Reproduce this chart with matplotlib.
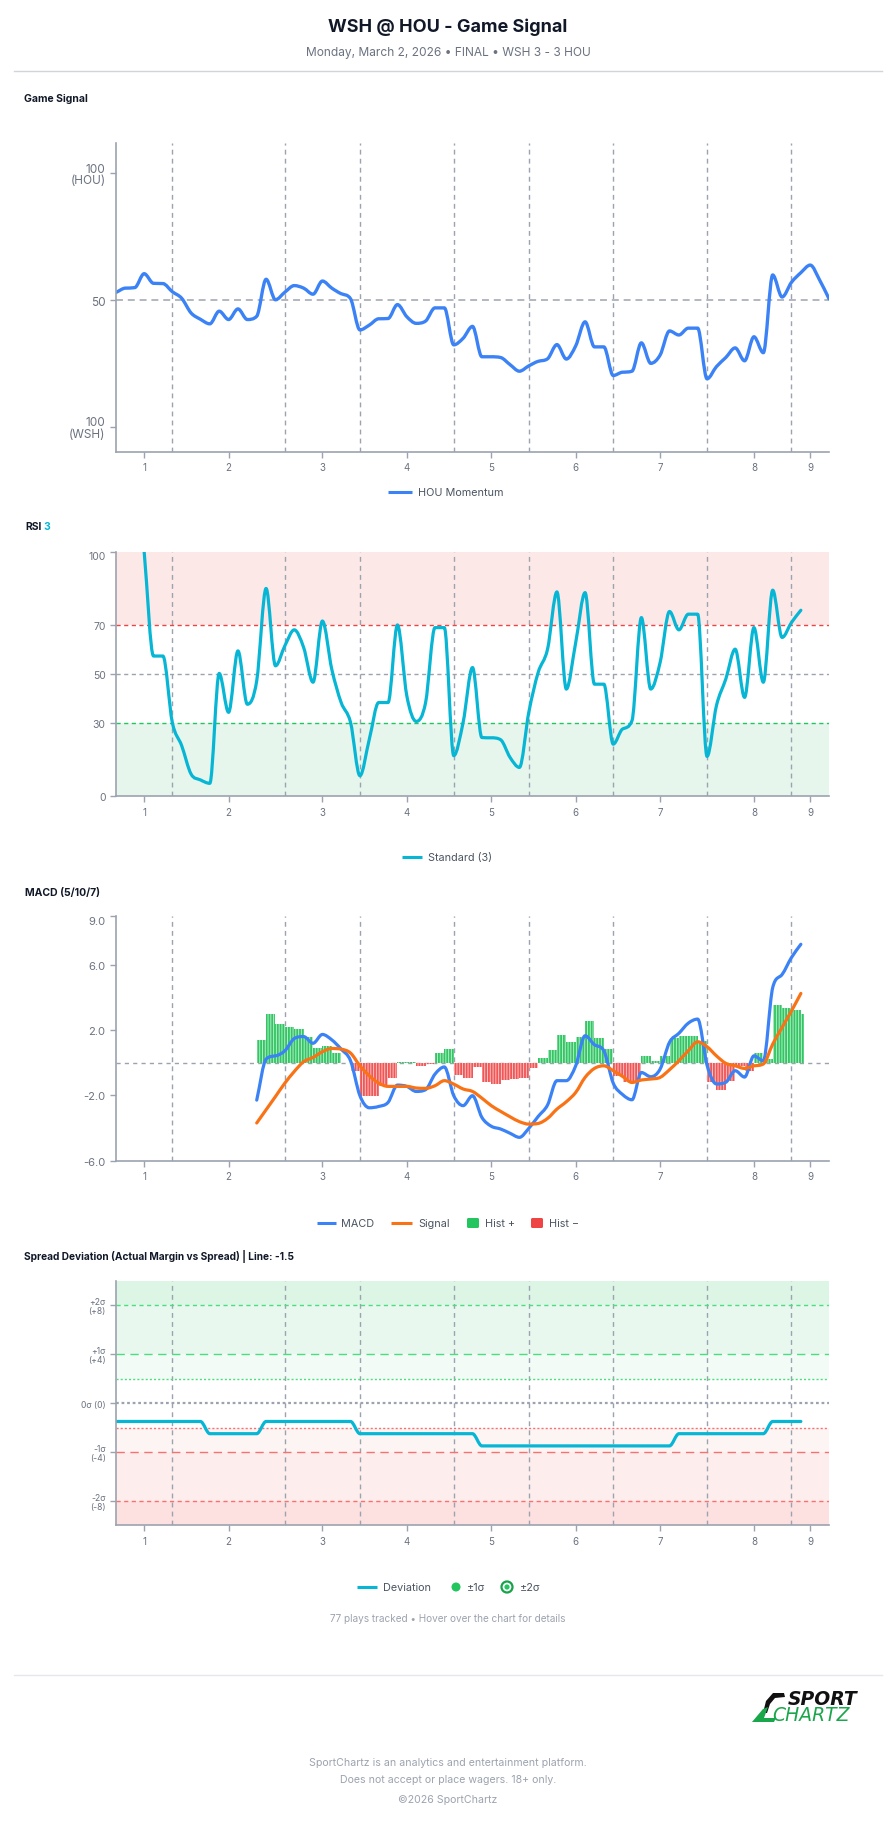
import numpy as np
import matplotlib
matplotlib.use("Agg")
import matplotlib.pyplot as plt
from matplotlib.path import Path
from matplotlib.patches import PathPatch, Rectangle, Circle, FancyBboxPatch

plt.rcParams['font.family'] = ['Inter', 'DejaVu Sans']
plt.rcParams['lines.scale_dashes'] = False
plt.rcParams['hatch.linewidth'] = 0.7

# ---------------- data ----------------
inning_labels = ['1', '2', '3', '4', '5', '6', '7', '8', '9']
inning_label_plays = [3, 12, 22, 31, 40, 49, 58, 68, 74]
inning_break_plays = [6, 18, 26, 36, 44, 53, 63, 72]
n_plays = 77

momentum = [53.0, 54.7, 54.9, 60.4, 56.6, 56.5, 53.3, 50.7, 44.9, 42.4,
            40.6, 45.6, 42.3, 46.5, 42.3, 43.6, 58.2, 50.1, 53.1, 55.7,
            54.7, 52.3, 57.5, 54.7, 52.5, 50.5, 38.2, 40.1, 42.6, 42.7,
            48.2, 43.4, 40.8, 41.7, 46.9, 46.9, 32.3, 34.9, 39.6, 27.6,
            27.6, 27.3, 24.5, 21.9, 24.0, 25.8, 26.8, 32.4, 26.7, 31.9,
            41.4, 31.5, 31.5, 20.2, 21.5, 21.9, 33.1, 25.0, 28.3, 37.8,
            36.2, 38.9, 38.9, 18.9, 23.7, 27.3, 31.1, 26.0, 35.5, 29.2,
            59.9, 51.2, 57.0, 60.8, 63.8, 57.9, 50.5]

rsi_start = 3
rsi = [100.0, 57.3, 57.3, 30.2, 20.7, 9.1, 6.7, 5.3, 50.2, 34.3,
       59.4, 37.6, 47.2, 84.9, 53.3, 61.5, 68.0, 60.8, 46.6, 71.6,
       51.9, 38.3, 30.2, 8.4, 23.3, 38.3, 38.3, 70.0, 41.0, 30.6,
       38.3, 68.9, 68.9, 16.6, 30.2, 52.6, 24.0, 23.9, 23.1, 15.9,
       11.8, 34.3, 50.6, 60.1, 83.5, 43.8, 62.8, 83.2, 45.8, 45.8,
       21.3, 27.5, 30.9, 73.0, 43.8, 54.7, 75.5, 68.0, 74.4, 74.4,
       16.3, 37.0, 47.9, 60.1, 40.4, 68.9, 46.6, 84.2, 64.9, 71.0,
       76.0]

macd_start = 15
macd = [-2.29, 0.22, 0.42, 0.73, 1.48, 1.60, 1.19, 1.73, 1.40, 0.83,
        0.12, -2.02, -2.76, -2.68, -2.43, -1.37, -1.45, -1.76, -1.65, -0.70,
        -0.26, -2.02, -2.63, -2.02, -3.35, -3.89, -4.06, -4.32, -4.57, -4.02,
        -3.29, -2.59, -1.10, -1.10, -0.19, 1.65, 1.10, 0.73, -1.25, -1.95,
        -2.27, -0.60, -0.86, -0.39, 1.25, 1.80, 2.42, 2.67, -0.15, -1.30,
        -1.20, -0.49, -0.88, 0.42, 0.12, 4.60, 5.40, 6.44, 7.25]
macd_signal = [-3.69, -2.88, -2.07, -1.25, -0.54, 0.06, 0.32, 0.67, 0.87, 0.83,
               0.59, -0.19, -0.80, -1.25, -1.45, -1.45, -1.45, -1.55, -1.57, -1.41,
               -1.10, -1.31, -1.61, -1.76, -2.17, -2.63, -2.98, -3.31, -3.61, -3.76,
               -3.72, -3.41, -2.84, -2.39, -1.82, -0.90, -0.35, -0.19, -0.49, -0.84,
               -1.21, -1.06, -1.00, -0.90, -0.43, 0.12, 0.73, 1.28, 0.98, 0.42,
               -0.04, -0.19, -0.35, -0.19, -0.08, 1.14, 2.16, 3.17, 4.24]
macd_hist = [1.38, 2.97, 2.36, 2.16, 2.05, 1.56, 0.90, 1.04, 0.59, -0.03,
             -0.50, -2.06, -2.06, -1.45, -0.94, 0.06, 0.02, -0.19, -0.08, 0.59,
             0.83, -0.76, -0.94, -0.29, -1.20, -1.31, -1.04, -1.00, -0.94, -0.33,
             0.28, 0.79, 1.69, 1.24, 1.56, 2.58, 1.50, 0.83, -0.80, -1.16,
             -1.10, 0.42, 0.12, 0.38, 1.54, 1.62, 1.66, 1.35, -1.20, -1.65,
             -1.10, -0.23, -0.49, 0.59, 0.22, 3.54, 3.32, 3.22, 3.00]

spread_dev = [-1.5, -1.5, -1.5, -1.5, -1.5, -1.5, -1.5, -1.5, -1.5, -1.5,
              -2.5, -2.5, -2.5, -2.5, -2.5, -2.5,
              -1.5, -1.5, -1.5, -1.5, -1.5, -1.5, -1.5, -1.5, -1.5, -1.5,
              -2.5, -2.5, -2.5, -2.5, -2.5, -2.5, -2.5, -2.5, -2.5, -2.5, -2.5, -2.5, -2.5,
              -3.5, -3.5, -3.5, -3.5, -3.5, -3.5, -3.5, -3.5, -3.5, -3.5, -3.5,
              -3.5, -3.5, -3.5, -3.5, -3.5, -3.5, -3.5, -3.5, -3.5, -3.5,
              -2.5, -2.5, -2.5, -2.5, -2.5, -2.5, -2.5, -2.5, -2.5, -2.5,
              -1.5, -1.5, -1.5, -1.5]

# ---------------- helpers ----------------
W, H = 896, 1824
fig = plt.figure(figsize=(W / 100, H / 100), dpi=100)
fig.patch.set_facecolor('white')

bg = fig.add_axes([0, 0, 1, 1])
bg.set_xlim(0, W)
bg.set_ylim(H, 0)
bg.axis('off')

GRAY = '#9ca3af'
TICKC = '#6b7280'
DARK = '#111827'
BLUE = '#3b82f6'
CYAN = '#06b6d4'
ORANGE = '#f97316'
GREEN = '#22c55e'
RED = '#ef4444'


def panel(top, bottom, left=116, right=829):
    return fig.add_axes([left / W, 1 - bottom / H, (right - left) / W, (bottom - top) / H])


def mono_path(xs, ys):
    x = np.asarray(xs, float)
    y = np.asarray(ys, float)
    n = len(x)
    dx = np.diff(x)
    d = np.diff(y) / dx
    m = np.zeros(n)
    m[0] = d[0]
    m[-1] = d[-1]
    for i in range(1, n - 1):
        m[i] = 0.0 if d[i - 1] * d[i] <= 0 else (d[i - 1] + d[i]) / 2
    for i in range(n - 1):
        if abs(d[i]) < 1e-9:
            m[i] = 0.0
            m[i + 1] = 0.0
            continue
        a = m[i] / d[i]
        b = m[i + 1] / d[i]
        s = a * a + b * b
        if s > 9:
            t = 3 / np.sqrt(s)
            m[i] = t * a * d[i]
            m[i + 1] = t * b * d[i]
    verts = [(x[0], y[0])]
    codes = [Path.MOVETO]
    for i in range(n - 1):
        h = dx[i] / 3
        verts += [(x[i] + h, y[i] + m[i] * h), (x[i + 1] - h, y[i + 1] - m[i + 1] * h), (x[i + 1], y[i + 1])]
        codes += [Path.CURVE4] * 3
    return Path(verts, codes)


def draw_curve(ax, xs, ys, color, lw=2.2, z=5):
    ax.add_patch(PathPatch(mono_path(xs, ys), facecolor='none', edgecolor=color, lw=lw,
                           capstyle='round', joinstyle='round', zorder=z))


def style(ax):
    for s in ['top', 'right']:
        ax.spines[s].set_visible(False)
    for s in ['left', 'bottom']:
        ax.spines[s].set_color(GRAY)
        ax.spines[s].set_linewidth(1.2)
        ax.spines[s].set_zorder(6)
    ax.set_facecolor('none')
    ax.tick_params(axis='both', colors=GRAY, labelcolor=TICKC, length=4, width=1)
    ax.tick_params(axis='x', labelsize=7)
    ax.set_xlim(0, n_plays - 1)
    ax.set_xticks(inning_label_plays, inning_labels)
    for b in inning_break_plays:
        ax.axvline(b, color=GRAY, lw=1.0, ls=(0, (3.5, 3)), zorder=2)


# ---------------- header ----------------
bg.text(448, 27, 'WSH @ HOU - Game Signal', ha='center', va='center', fontsize=13,
        fontweight='bold', color=DARK)
bg.text(448, 53, 'Monday, March 2, 2026 • FINAL • WSH 3 - 3 HOU', ha='center', va='center',
        fontsize=8.6, color=TICKC)
bg.plot([14, 882], [72, 72], color='#d1d5db', lw=1)

# ---------------- panel 1: Game Signal ----------------
bg.text(24, 99, 'Game Signal', ha='left', va='center', fontsize=7.5, fontweight='bold', color=DARK)
ax1 = panel(144, 453)
style(ax1)
ax1.set_ylim(-10, 112)
ax1.set_yticks([0, 50, 100], ['100\n(WSH)', '50', '100\n(HOU)'])
ax1.tick_params(axis='y', labelsize=8.5)
for lab in ax1.get_yticklabels():
    lab.set_linespacing(0.95)
ax1.axhline(50, color=GRAY, lw=1.1, ls=(0, (5, 3.5)), zorder=2)
draw_curve(ax1, np.arange(len(momentum)), momentum, BLUE, lw=2.4)

bg.plot([388, 412], [493, 493], color=BLUE, lw=2.2, solid_capstyle='butt')
bg.text(418, 493, 'HOU Momentum', ha='left', va='center', fontsize=7.8, color='#4b5563')

# ---------------- panel 2: RSI ----------------
bg.text(25, 527, 'RSI', ha='left', va='center', fontsize=7.5, fontweight='bold', color=DARK)
bg.text(43, 527, '3', ha='left', va='center', fontsize=7.5, fontweight='bold', color=CYAN)
ax2 = panel(552.5, 797.3)
style(ax2)
ax2.set_ylim(0, 100)
ax2.set_yticks([0, 30, 50, 70, 100], ['0', '30', '50', '70', '100'])
ax2.tick_params(axis='y', labelsize=7.5)
ax2.get_yticklabels()[-1].set_verticalalignment('top')
ax2.axhspan(70, 100, color='#fde8e8', zorder=0, lw=0)
ax2.axhspan(0, 30, color='#e6f6ec', zorder=0, lw=0)
ax2.axhline(70, color=RED, lw=1.0, ls=(0, (3, 2.5)), zorder=2)
ax2.axhline(50, color=GRAY, lw=1.0, ls=(0, (3, 2.5)), zorder=2)
ax2.axhline(30, color=GREEN, lw=1.0, ls=(0, (3, 2.5)), zorder=2)
draw_curve(ax2, np.arange(rsi_start, rsi_start + len(rsi)), rsi, CYAN, lw=2.3)

bg.plot([402, 422], [858, 858], color=CYAN, lw=2.2, solid_capstyle='butt')
bg.text(428, 858, 'Standard (3)', ha='left', va='center', fontsize=7.8, color='#4b5563')

# ---------------- panel 3: MACD ----------------
bg.text(25, 893, 'MACD (5/10/7)', ha='left', va='center', fontsize=7.5, fontweight='bold', color=DARK)
ax3 = panel(916.7, 1161.7)
style(ax3)
ax3.set_ylim(-6, 9)
ax3.set_yticks([-6, -2, 2, 6, 9], ['-6.0', '-2.0', '2.0', '6.0', '9.0'])
ax3.tick_params(axis='y', labelsize=8)
ax3.get_yticklabels()[-1].set_verticalalignment('top')
ax3.axhline(0, color=GRAY, lw=1.0, ls=(0, (3, 3)), zorder=2)
hx = np.arange(macd_start, macd_start + len(macd_hist))
hv = np.array(macd_hist)
widths = np.ones(len(hv))
widths[-1] = 0.3
pos = hv >= 0
ax3.bar(hx[pos], hv[pos], width=widths[pos], align='edge', color='#33c463',
        edgecolor='#b5efc9', hatch='||||||', lw=0, zorder=3)
ax3.bar(hx[~pos], hv[~pos], width=widths[~pos], align='edge', color='#f05656',
        edgecolor='#fbc4c4', hatch='||||||', lw=0, zorder=3)
mx = np.arange(macd_start, macd_start + len(macd))
draw_curve(ax3, mx, macd, BLUE, lw=2.3, z=6)
draw_curve(ax3, mx, macd_signal, ORANGE, lw=2.3, z=7)

ly = 1224
bg.plot([317, 336], [ly, ly], color=BLUE, lw=2.2, solid_capstyle='butt')
bg.text(341, ly, 'MACD', ha='left', va='center', fontsize=7.8, color='#4b5563')
bg.plot([391, 412], [ly, ly], color=ORANGE, lw=2.2, solid_capstyle='butt')
bg.text(418, ly, 'Signal', ha='left', va='center', fontsize=7.8, color='#4b5563')
bg.add_patch(FancyBboxPatch((467, ly - 5), 12, 10, boxstyle='round,pad=0,rounding_size=1.5',
                            facecolor=GREEN, edgecolor='none'))
bg.text(485, ly, 'Hist +', ha='left', va='center', fontsize=7.8, color='#4b5563')
bg.add_patch(FancyBboxPatch((531, ly - 5), 12, 10, boxstyle='round,pad=0,rounding_size=1.5',
                            facecolor=RED, edgecolor='none'))
bg.text(549, ly, 'Hist −', ha='left', va='center', fontsize=7.8, color='#4b5563')

# ---------------- panel 4: Spread Deviation ----------------
bg.text(24, 1257, 'Spread Deviation (Actual Margin vs Spread) | Line: -1.5', ha='left', va='center',
        fontsize=7.3, fontweight='bold', color=DARK)
ax4 = panel(1282, 1526.3)
style(ax4)
ax4.set_ylim(-10, 10)
ax4.set_yticks([-8, -4, 0, 4, 8], ['-2σ\n(-8)', '-1σ\n(-4)', '0σ (0)', '+1σ\n(+4)', '+2σ\n(+8)'])
ax4.tick_params(axis='y', labelsize=6.2)
for lab in ax4.get_yticklabels():
    lab.set_linespacing(0.95)
ax4.axhspan(8, 10, color='#dcf5e5', zorder=0, lw=0)
ax4.axhspan(4, 8, color='#e9f8ef', zorder=0, lw=0)
ax4.axhspan(2, 4, color='#f3fbf6', zorder=0, lw=0)
ax4.axhspan(-4, -2, color='#fdf4f4', zorder=0, lw=0)
ax4.axhspan(-8, -4, color='#fdeded', zorder=0, lw=0)
ax4.axhspan(-10, -8, color='#fde0e0', zorder=0, lw=0)
ax4.axhline(8, color='#4ade80', lw=1.0, ls=(0, (3, 2.5)), zorder=2)
ax4.axhline(4, color='#4ade80', lw=1.0, ls=(0, (6, 4)), zorder=2)
ax4.axhline(2, color='#4ade80', lw=1.0, ls=(0, (1.5, 1.5)), zorder=2)
ax4.axhline(0, color=GRAY, lw=1.6, ls=(0, (2, 2)), zorder=2)
ax4.axhline(-2, color='#f87171', lw=1.0, ls=(0, (1.5, 1.5)), zorder=2)
ax4.axhline(-4, color='#f87171', lw=1.0, ls=(0, (6, 4)), zorder=2)
ax4.axhline(-8, color='#f87171', lw=1.0, ls=(0, (3, 2.5)), zorder=2)
draw_curve(ax4, np.arange(len(spread_dev)), spread_dev, CYAN, lw=2.3)

ly = 1588
bg.plot([357, 377], [ly, ly], color=CYAN, lw=2.2, solid_capstyle='butt')
bg.text(383, ly, 'Deviation', ha='left', va='center', fontsize=7.8, color='#4b5563')
bg.add_patch(Circle((456, ly), 4.5, facecolor=GREEN, edgecolor='none'))
bg.text(467, ly, '±1σ', ha='left', va='center', fontsize=7.8, color='#4b5563')
bg.add_patch(Circle((507, ly), 5.5, facecolor='white', edgecolor='#16a34a', lw=1.6))
bg.add_patch(Circle((507, ly), 2.6, facecolor=GREEN, edgecolor='none'))
bg.text(520, ly, '±2σ', ha='left', va='center', fontsize=7.8, color='#4b5563')

bg.text(448, 1619, '77 plays tracked • Hover over the chart for details', ha='center', va='center',
        fontsize=7.2, color=GRAY)

# ---------------- footer ----------------
bg.plot([14, 882], [1676, 1676], color='#e5e7eb', lw=1)
sw_black = Path([(784, 1694), (773, 1694), (766, 1702), (763, 1714), (767, 1714), (770, 1705),
                 (775, 1699), (785, 1698), (784, 1694)])
bg.add_patch(PathPatch(sw_black, facecolor='#111111', edgecolor='none'))
sw_green = Path([(752, 1723), (774, 1723), (776, 1719), (764, 1719), (768, 1708), (763, 1710),
                 (752, 1723)])
bg.add_patch(PathPatch(sw_green, facecolor='#1aa64a', edgecolor='none'))
bg.text(788, 1700, 'SPORT', ha='left', va='center', fontsize=13.5, fontweight='bold',
        style='oblique', family='DejaVu Sans', color='#111111')
bg.text(772, 1716, 'CHARTZ', ha='left', va='center', fontsize=13.5,
        style='oblique', family='DejaVu Sans', color='#1aa64a')

bg.text(448, 1763, 'SportChartz is an analytics and entertainment platform.', ha='center',
        va='center', fontsize=7.6, color=GRAY)
bg.text(448, 1780, 'Does not accept or place wagers. 18+ only.', ha='center', va='center',
        fontsize=7.6, color=GRAY)
bg.text(448, 1800, '©2026 SportChartz', ha='center', va='center', fontsize=7.6, color=GRAY)

fig.savefig('out.png', dpi=100, facecolor='white')
